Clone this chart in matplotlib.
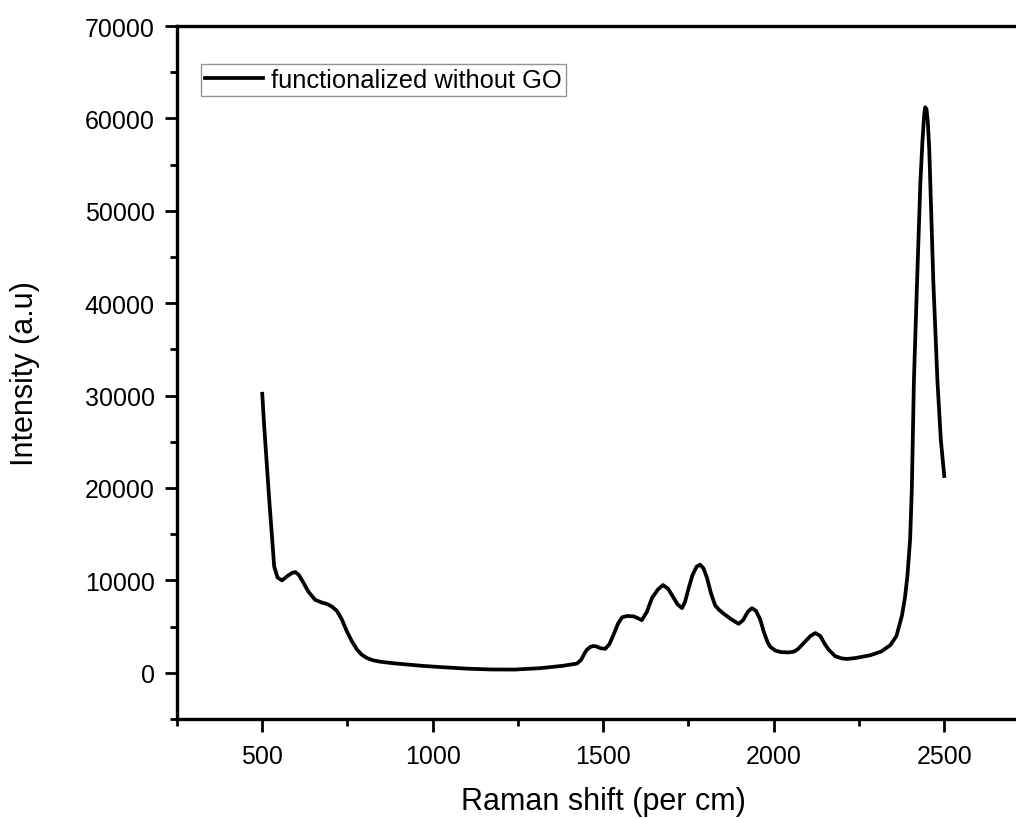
import matplotlib.pyplot as plt
from matplotlib.ticker import MultipleLocator

plt.rcParams['font.family'] = ['Liberation Sans', 'DejaVu Sans']

# Raman spectrum
shift = [500, 506, 520, 535, 545, 558, 575, 587, 597, 607,
         620, 635, 655, 675, 690, 705, 719, 733, 748, 763,
         778, 792, 807, 825, 846, 880, 924, 970, 1022, 1100,
         1169, 1240, 1315, 1380, 1423, 1435, 1445, 1452, 1462, 1471,
         1480, 1493, 1506, 1518, 1530, 1543, 1555, 1570, 1590, 1602,
         1613, 1628, 1643, 1660, 1675, 1690, 1705, 1718, 1731, 1740,
         1750, 1762, 1774, 1784, 1794, 1804, 1816, 1828, 1840, 1853,
         1875, 1897, 1910, 1924, 1936, 1948, 1960, 1972, 1982, 1990,
         2005, 2020, 2043, 2060, 2072, 2090, 2108, 2122, 2136, 2150,
         2161, 2180, 2200, 2215, 2240, 2283, 2315, 2342, 2360, 2376,
         2385, 2392, 2400, 2405, 2411, 2420, 2430, 2436, 2441, 2444,
         2448, 2452, 2456, 2462, 2468, 2480, 2490, 2500]
intensity = [30200, 26500, 19000, 11500, 10300, 10000, 10500, 10800, 10900, 10600,
             9800, 8800, 7900, 7600, 7450, 7150, 6700, 5800, 4500, 3400,
             2500, 1950, 1600, 1350, 1200, 1050, 900, 750, 620, 450,
             360, 350, 500, 750, 1000, 1400, 2100, 2500, 2800, 2900,
             2850, 2650, 2600, 3100, 4100, 5300, 6000, 6150, 6100, 5900,
             5700, 6600, 8100, 9000, 9500, 9100, 8200, 7400, 7000, 7700,
             9100, 10600, 11500, 11700, 11300, 10300, 8600, 7300, 6800, 6400,
             5800, 5300, 5700, 6600, 7000, 6700, 5800, 4300, 3300, 2800,
             2400, 2250, 2200, 2300, 2600, 3300, 4000, 4300, 4000, 3100,
             2500, 1800, 1550, 1500, 1600, 1900, 2300, 3000, 4000, 6200,
             8200, 10500, 14500, 20000, 31600, 42000, 53100, 57500, 60300, 61200,
             61000, 59500, 56700, 49500, 42300, 31600, 25200, 21300]

fig = plt.figure(figsize=(10.16, 8.2), dpi=100)
ax = fig.add_axes([177 / 1016, 100 / 820, 852.5 / 1016, 693 / 820])

ax.plot(shift, intensity, color='black', lw=2.7, label='functionalized without GO',
        solid_joinstyle='round')

ax.set_xlim(250, 2750)
ax.set_ylim(-5000, 70000)
ax.xaxis.set_major_locator(MultipleLocator(500))
ax.xaxis.set_minor_locator(MultipleLocator(250))
ax.yaxis.set_major_locator(MultipleLocator(10000))
ax.yaxis.set_minor_locator(MultipleLocator(5000))
ax.tick_params(which='both', direction='out', width=2, labelsize=18, top=False, right=False)
ax.tick_params(which='major', length=9)
ax.tick_params(which='minor', length=5)
ax.tick_params(axis='x', which='major', pad=9)
ax.tick_params(axis='y', which='major', pad=7)
for s in ax.spines.values():
    s.set_linewidth(2.4)

ax.set_xlabel('Raman shift (per cm)', fontsize=22)
ax.set_ylabel('Intensity (a.u)', fontsize=22)
ax.xaxis.set_label_coords(0.5, -0.097)
ax.yaxis.set_label_coords(-0.161, 0.5)

leg = ax.legend(loc='upper left', bbox_to_anchor=(0.028, 0.945), borderaxespad=0,
                fontsize=18.4, fancybox=False, handlelength=2.3, handletextpad=0.3,
                borderpad=0.15)
leg.get_frame().set_edgecolor('#777777')
leg.get_frame().set_linewidth(1)

fig.savefig('out.png', dpi=100)
